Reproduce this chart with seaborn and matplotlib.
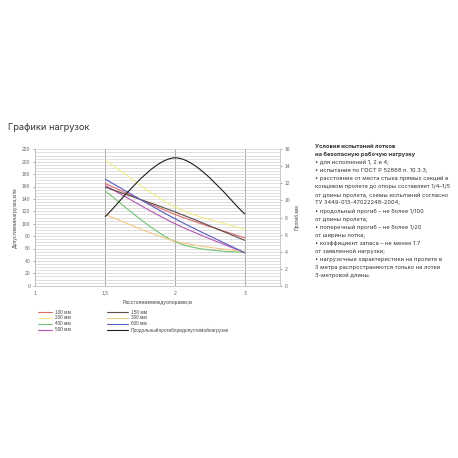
import numpy as np
import matplotlib
matplotlib.use("Agg")
import matplotlib.pyplot as plt
import seaborn as sns
from matplotlib.path import Path
from matplotlib.patches import PathPatch
from matplotlib.lines import Line2D

# categories on the x axis (span between supports, m)
SPAN_LABELS = ["1", "1,5", "2", "3"]
SPANS_MEASURED = ["1,5", "2", "3"]

# allowed load, kg/m, per tray height
LOAD_100 = [165, 115, 77]
LOAD_150 = [159, 119, 73]
LOAD_200 = [203, 127, 91]
LOAD_300 = [115, 72, 55]
LOAD_400 = [153, 71, 53]
LOAD_500 = [162, 100, 53]
LOAD_600 = [172, 108, 53]
# longitudinal deflection, mm (right axis)
DEFLECTION = [8.1, 15.0, 8.4]

SERIES = [
    ("100 мм", LOAD_100, "#de6b6b"),
    ("200 мм", LOAD_200, "#f2ee8a"),
    ("400 мм", LOAD_400, "#74c274"),
    ("500 мм", LOAD_500, "#b455b4"),
    ("150 мм", LOAD_150, "#5c4c4c"),
    ("300 мм", LOAD_300, "#f3c985"),
    ("600 мм", LOAD_600, "#5a5cc0"),
]
DEFLECTION_LABEL = "Продольныйпрогибпридопустимойнагрузке"

NOTES = [
    ("Условия испытаний лотков", "bold"),
    ("на безопасную рабочую нагрузку", "bold"),
    ("• для исполнений 1, 2 и 4;", "normal"),
    ("• испытания по ГОСТ Р 52868 п. 10.3.3;", "normal"),
    ("• расстояние от места стыка прямых секций в", "normal"),
    ("концевом пролете до опоры составляет 1/4–1/5", "normal"),
    ("от длины пролета, схемы испытаний согласно", "normal"),
    ("ТУ 3449-013-47022248-2004;", "normal"),
    ("• продольный прогиб – не более 1/100", "normal"),
    ("от длины пролета;", "normal"),
    ("• поперечный прогиб – не более 1/20", "normal"),
    ("от ширины лотка;", "normal"),
    ("• коэффициент запаса – не менее 1.7", "normal"),
    ("от заявленной нагрузки;", "normal"),
    ("• нагрузочные характеристики на пролете в", "normal"),
    ("3 метра распространяются только на лотки", "normal"),
    ("3-метровой длины.", "normal"),
]

W = H = 458


def smooth_path(xs, ys):
    # excel-like smoothed line: cubic bezier through the points
    pts = np.column_stack([xs, ys]).astype(float)
    n = len(pts)
    verts = [pts[0]]
    codes = [Path.MOVETO]
    for i in range(n - 1):
        p0 = pts[max(i - 1, 0)]
        p1 = pts[i]
        p2 = pts[i + 1]
        p3 = pts[min(i + 2, n - 1)]
        verts += [p1 + (p2 - p0) / 6, p2 - (p3 - p1) / 6, p2]
        codes += [Path.CURVE4] * 3
    return Path(verts, codes)


def add_curve(ax, xs, ys, color, lw=0.8):
    patch = PathPatch(smooth_path(xs, ys), facecolor="none", edgecolor=color, lw=lw)
    ax.add_patch(patch)


sns.set_theme(style="white")
plt.rcParams["font.family"] = ["Liberation Sans", "DejaVu Sans"]

fig = plt.figure(figsize=(W / 100, H / 100), dpi=100)
fig.patch.set_facecolor("white")

ax = fig.add_axes([35 / W, 1 - 285.7 / H, (280 - 35) / W, (285.7 - 149.3) / H])
ax2 = ax.twinx()

x_pos = [SPAN_LABELS.index(s) for s in SPANS_MEASURED]

ax.set_xlim(0, 3.5)
ax.set_ylim(0, 220)
ax2.set_ylim(0, 16)

ax.set_yticks(np.arange(0, 221, 20))
ax.set_yticks(np.arange(0, 221, 5), minor=True)
ax.yaxis.grid(True, which="both", color="#d2d2d2", lw=0.5)
ax.set_xticks(range(len(SPAN_LABELS)))
ax.set_xticklabels(SPAN_LABELS)
ax.xaxis.grid(True, color="#9a9a9a", lw=0.6)
ax.set_axisbelow(True)
ax2.set_yticks(np.arange(0, 17, 2))

for a in (ax, ax2):
    for side, sp in a.spines.items():
        sp.set_color("#c8c8c8")
        sp.set_linewidth(0.5)
    a.spines["top"].set_visible(False)
    a.tick_params(labelsize=3.6, colors="#666666", length=1.5, width=0.4, pad=2)
ax.tick_params(axis="y", which="minor", length=0)
ax2.spines["left"].set_visible(False)

for label, values, color in SERIES:
    add_curve(ax, x_pos, values, color)
add_curve(ax2, x_pos, DEFLECTION, "#1e1e1e", lw=0.8)

ax.set_ylabel("Допустимаянагрузка,кг/м", fontsize=3.7, color="#444444", labelpad=3)
ax.set_xlabel("Расстояниемеждуопорами,м", fontsize=3.7, color="#444444", labelpad=3)
ax2.set_ylabel("Прогиб,мм", fontsize=3.7, color="#444444", labelpad=3)

handles = [Line2D([], [], color=c, lw=0.8) for _, _, c in SERIES]
labels = [lab for lab, _, _ in SERIES]
handles.append(Line2D([], [], color="#1e1e1e", lw=0.8))
labels.append(DEFLECTION_LABEL)

leg_kw = dict(loc="upper left", frameon=False, fontsize=3.4, labelspacing=0.2,
              handletextpad=0.5, borderpad=0, borderaxespad=0, labelcolor="#444444")
leg1 = fig.legend(handles[:4], labels[:4], bbox_to_anchor=(38 / W, 1 - 309.5 / H),
                  handlelength=3.0, **leg_kw)
leg2 = fig.legend(handles[4:], labels[4:], bbox_to_anchor=(107 / W, 1 - 309.5 / H),
                  handlelength=4.5, **leg_kw)

fig.text(8 / W, 1 - 128 / H, "Графики нагрузок", fontsize=6.6, color="#333333",
         family=["Inter", "DejaVu Sans"], va="center", ha="left")

for i, (line, weight) in enumerate(NOTES):
    fig.text(315 / W, 1 - (146.7 + 8.04 * i) / H, line, fontsize=4.15, color="#333333",
             family=["Inter", "DejaVu Sans"], weight=weight, va="center", ha="left")

fig.savefig("out.png", dpi=100, facecolor="white")
